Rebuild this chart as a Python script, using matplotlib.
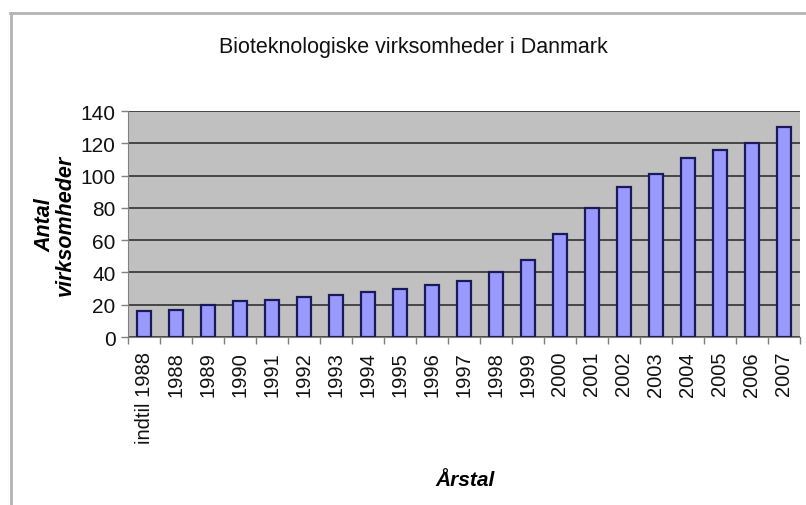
import matplotlib
matplotlib.use("Agg")
import matplotlib.pyplot as plt
from matplotlib.lines import Line2D
import numpy as np

categories = ["indtil 1988", "1988", "1989", "1990", "1991", "1992", "1993", "1994",
              "1995", "1996", "1997", "1998", "1999", "2000", "2001", "2002",
              "2003", "2004", "2005", "2006", "2007"]
values = [16, 17, 20, 22, 23, 25, 26, 28, 30, 32, 35, 40, 48, 64, 80, 93, 101, 111, 116, 120, 130]
yticks = [0, 20, 40, 60, 80, 100, 120, 140]

title = "Bioteknologiske virksomheder i Danmark"
ylabel = "Antal\nvirksomheder"
xlabel = "Årstal"

plt.rcParams['font.family'] = ['Liberation Sans', 'DejaVu Sans']

W, H = 806, 506
fig = plt.figure(figsize=(W / 100, H / 100), dpi=100)
fig.patch.set_facecolor("white")

# chart-area border (top and left visible)
fig.add_artist(Line2D([10 / W, 1], [1 - 13.5 / H, 1 - 13.5 / H], color="#b4b4b4", lw=2))
fig.add_artist(Line2D([10.5 / W, 10.5 / W], [0, 1 - 13.5 / H], color="#b4b4b4", lw=2))

ax = fig.add_axes([128 / W, 1 - 338 / H, (800 - 128) / W, (338 - 112) / H])
ax.set_facecolor("#c0c0c0")

x = np.arange(len(categories))
ax.bar(x, values, width=0.46, color="#9999ff", edgecolor="#1a1a5a", linewidth=1.6, zorder=3)

ax.set_xlim(-0.5, len(categories) - 0.5)
ax.set_ylim(0, 140)
ax.set_yticks(yticks)
ax.set_yticklabels([str(v) for v in yticks], fontsize=15, color="#111111")
ax.yaxis.grid(True, color="#3c3c3c", linewidth=1.3, zorder=1)

ax.set_xticks(x)
ax.set_xticklabels(categories, rotation=90, fontsize=14.5, color="#111111")
ax.tick_params(axis="x", which="major", length=0, pad=10)
ax.set_xticks(np.arange(len(categories) + 1) - 0.5, minor=True)
ax.tick_params(axis="x", which="minor", length=5, color="#808080", width=1, direction="out")
ax.tick_params(axis="y", length=5, color="#808080", width=1, pad=4)

for s in ["top", "right"]:
    ax.spines[s].set_visible(False)
ax.spines["left"].set_color("#808080")
ax.spines["bottom"].set_color("#808080")

fig.text(413 / W, 1 - 48 / H, title, ha="center", va="center", fontsize=15.5, color="#111111")
fig.text(55 / W, 1 - 225 / H, ylabel, ha="center", va="center", rotation=90,
         fontsize=15.5, fontweight="bold", fontstyle="italic", linespacing=1.0)
fig.text(465 / W, 1 - 481 / H, xlabel, ha="center", va="center",
         fontsize=15, fontweight="bold", fontstyle="italic")

fig.savefig("out.png", dpi=100, facecolor="white")
